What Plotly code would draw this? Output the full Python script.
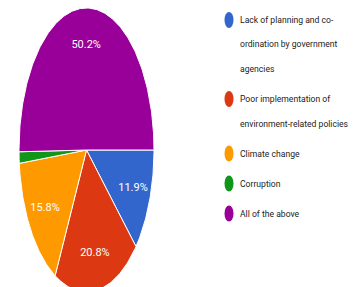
import numpy as np
import plotly.graph_objects as go

# ---- data ----
categories = [
    "Lack of planning and co-ordination by government agencies",
    "Poor implementation of environment-related policies",
    "Climate change",
    "Corruption",
    "All of the above",
]
legend_lines = [
    ["Lack of planning and co-", "ordination by government", "agencies"],
    ["Poor implementation of", "environment-related policies"],
    ["Climate change"],
    ["Corruption"],
    ["All of the above"],
]
percentages = [11.9, 20.8, 15.8, 1.3, 50.2]
colors = ["#3366CC", "#DC3912", "#FF9900", "#109618", "#990099"]

# ---- layout geometry (pixels, figure coordinates; page body adds an 8px margin) ----
W, H = 350, 279
cx, cy, rx, ry = 78.5, 142.0, 67.5, 142.0
FONT = "Roboto, Liberation Sans, Arial, sans-serif"

fig = go.Figure()

total = sum(percentages)
cum = 0.0
lab_x, lab_y, lab_t = [], [], []
for name, pct, col in zip(categories, percentages, colors):
    a0 = -2 * np.pi * cum / total
    a1 = -2 * np.pi * (cum + pct) / total
    n = max(4, int(abs(a1 - a0) / (2 * np.pi) * 360))
    th = np.linspace(a0, a1, n)
    xs = np.concatenate([[0], np.cos(th), [0]])
    ys = np.concatenate([[0], np.sin(th), [0]])
    fig.add_trace(go.Scatter(
        x=xs, y=ys, mode="lines", fill="toself", fillcolor=col,
        line=dict(color="white", width=1), name=name, showlegend=False,
        hoverinfo="name",
    ))
    if pct >= 5:
        am = (a0 + a1) / 2
        lab_x.append(0.74 * np.cos(am))
        lab_y.append(0.74 * np.sin(am))
        lab_t.append(f"{pct:.1f}%")
    cum += pct

fig.add_trace(go.Scatter(
    x=lab_x, y=lab_y, text=lab_t, mode="text",
    textfont=dict(color="white", size=11, family=FONT),
    showlegend=False, hoverinfo="skip",
))

# ---- legend (drawn manually) ----
shapes, annotations = [], []
y = 12.0
for lines, col in zip(legend_lines, colors):
    shapes.append(dict(
        type="circle", xref="paper", yref="paper",
        x0=216.5 / W, x1=225.5 / W,
        y0=1 - (y + 8) / H, y1=1 - (y - 8) / H,
        fillcolor=col, line=dict(width=0),
    ))
    for i, ln in enumerate(lines):
        annotations.append(dict(
            text=ln, xref="paper", yref="paper",
            x=230 / W, y=1 - y / H, xanchor="left", yanchor="middle",
            showarrow=False, font=dict(size=8.6, color="#222222", family=FONT),
        ))
        if i < len(lines) - 1:
            y += 24.5
    y += 30

fig.update_layout(
    width=W, height=H,
    margin=dict(l=0, r=0, t=0, b=0),
    paper_bgcolor="white", plot_bgcolor="white",
    showlegend=False,
    xaxis=dict(domain=[0, 175 / W], range=[(0 - cx) / rx, (175 - cx) / rx],
               visible=False, fixedrange=True),
    yaxis=dict(domain=[0, 1], range=[-(H - cy) / ry, cy / ry],
               visible=False, fixedrange=True),
    shapes=shapes, annotations=annotations,
)

fig.write_html("out.html")
